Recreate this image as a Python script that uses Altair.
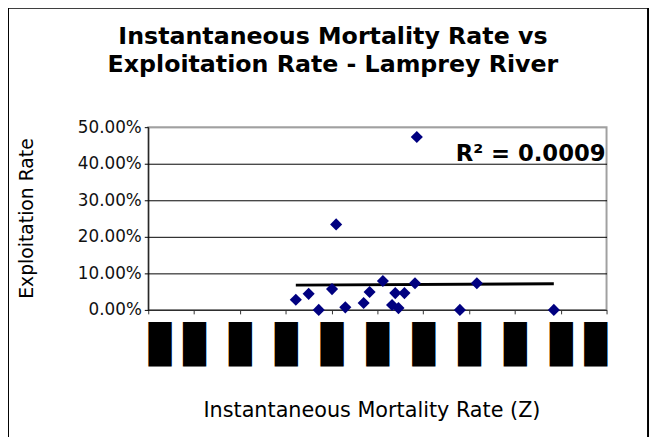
import altair as alt
import pandas as pd

# Instantaneous mortality rate (Z) and exploitation rate
z_values = [0.322, 0.350, 0.372, 0.401, 0.410, 0.430, 0.470, 0.483, 0.512,
            0.532, 0.539, 0.546, 0.559, 0.582, 0.586, 0.680, 0.717, 0.885]
exploitation = [0.028, 0.044, 0.000, 0.057, 0.234, 0.007, 0.019, 0.049, 0.079,
                0.0135, 0.046, 0.005, 0.046, 0.073, 0.473, 0.000, 0.073, 0.000]
x_ticks = [0.0, 0.1, 0.2, 0.3, 0.4, 0.5, 0.6, 0.7, 0.8, 0.9, 1.0]
y_ticks = [0.0, 0.1, 0.2, 0.3, 0.4, 0.5]
title_lines = ["Instantaneous Mortality Rate vs", "Exploitation Rate - Lamprey River"]
r2_label = "R² = 0.0009"

df = pd.DataFrame({"z": z_values, "e": exploitation})

FONT = "DejaVu Sans"

x_enc = alt.X(
    "z:Q",
    scale=alt.Scale(domain=[0, 1], nice=False, zero=False),
    axis=alt.Axis(
        values=x_ticks,
        labelExpr="'█'",
        labelFont="DejaVu Sans Mono",
        labelFontSize=38,
        labelColor="black",
        labelBaseline="top",
        labelPadding=13,
        tickSize=4,
        tickColor="#333",
        domainColor="#333",
        grid=False,
        title="Instantaneous Mortality Rate (Z)",
        titleFont=FONT,
        titleFontSize=21,
        titleFontWeight="normal",
        titleColor="black",
        titleY=108,
        titleX=226,
        titleBaseline="alphabetic",
        labelOverlap=False,
    ),
)
y_enc = alt.Y(
    "e:Q",
    scale=alt.Scale(domain=[0, 0.5], nice=False),
    axis=alt.Axis(
        values=y_ticks,
        format=".2%",
        labelFont=FONT,
        labelFontSize=17,
        labelColor="#111",
        labelPadding=3,
        labelOverlap=False,
        labelFlush=False,
        tickSize=4,
        tickColor="black",
        domainColor="black",
        grid=True,
        gridColor=alt.condition("datum.value >= 0.5", alt.value("#a0a0a0"), alt.value("black")),
        gridOpacity=1,
        title="Exploitation Rate",
        titleFont=FONT,
        titleFontSize=19,
        titleFontWeight="normal",
        titleColor="black",
        titleX=-117,
        titleY=92,
        titleBaseline="alphabetic",
        titleAngle=270,
        titleAlign="center",
    ),
)

points = alt.Chart(df).mark_point(
    shape="diamond", filled=True, color="#000080", size=150, opacity=1
).encode(x=x_enc, y=y_enc)

trend = alt.Chart(df).transform_regression("z", "e").mark_line(
    color="black", strokeWidth=3
).encode(x=x_enc, y=y_enc)

one = alt.Data(values=[{"k": 1}])

r2 = alt.Chart(one).mark_text(
    text=r2_label, font=FONT, fontSize=23, fontWeight="bold",
    align="right", baseline="alphabetic", color="black"
).encode(x=alt.value(463), y=alt.value(34))

t1 = alt.Chart(one).mark_text(
    text=title_lines[0], font=FONT, fontSize=24, fontWeight="bold",
    align="center", baseline="alphabetic", color="black"
).encode(x=alt.value(187), y=alt.value(-84))
t2 = alt.Chart(one).mark_text(
    text=title_lines[1], font=FONT, fontSize=24, fontWeight="bold",
    align="center", baseline="alphabetic", color="black"
).encode(x=alt.value(187), y=alt.value(-56))

frame = alt.Chart(one).mark_rect(
    filled=False, stroke="black", strokeWidth=2
).encode(x=alt.value(-142), x2=alt.value(506), y=alt.value(-121), y2=alt.value(330))

chart = alt.layer(frame, trend, points, r2, t1, t2).properties(
    width=464,
    height=185,
    autosize=alt.AutoSizeParams(type="none"),
    padding={"left": 142, "top": 118, "right": 44, "bottom": 126},
    background="white",
).configure_view(
    stroke="#a0a0a0", strokeWidth=2
)

chart.save("out.html", embed_options={"renderer": "svg", "actions": False})
